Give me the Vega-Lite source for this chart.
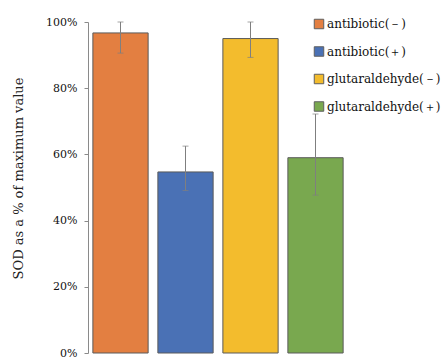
{
  "$schema": "https://vega.github.io/schema/vega-lite/v6.json",
  "width": 260,
  "height": 331,
  "autosize": "none",
  "padding": {"left": 88, "top": 22, "right": 96, "bottom": 5},
  "background": "white",
  "config": {
    "view": {"stroke": null},
    "font": "DejaVu Serif"
  },
  "data": {
    "values": [
      {"group": "antibiotic(－)", "sod": 96.7, "low": 90.6, "high": 100},
      {"group": "antibiotic(＋)", "sod": 54.7, "low": 49.1, "high": 62.5},
      {"group": "glutaraldehyde(－)", "sod": 95.0, "low": 89.3, "high": 100},
      {"group": "glutaraldehyde(＋)", "sod": 59.0, "low": 47.7, "high": 72.2}
    ]
  },
  "encoding": {
    "x": {
      "field": "group",
      "type": "nominal",
      "sort": null,
      "axis": null,
      "scale": {"paddingInner": 0.15, "paddingOuter": 0.075}
    }
  },
  "layer": [
    {
      "mark": {"type": "bar", "stroke": "#5a5a5a", "strokeWidth": 1},
      "encoding": {
        "y": {
          "field": "sod",
          "type": "quantitative",
          "scale": {"domain": [0, 100], "nice": false},
          "axis": {
            "values": [0, 20, 40, 60, 80, 100],
            "labelExpr": "datum.value + '%'",
            "grid": false,
            "domainColor": "#8a8a8a",
            "tickColor": "#8a8a8a",
            "tickSize": 4,
            "labelPadding": 7,
            "labelFont": "DejaVu Serif",
            "labelFontSize": 11,
            "labelColor": "#111111",
            "title": "SOD as a % of maximum value",
            "titleFont": "DejaVu Serif",
            "titleFontSize": 13,
            "titleFontWeight": "normal",
            "titleColor": "#222222",
            "titleX": -70,
            "titleY": 156,
            "titleAlign": "center",
            "titleBaseline": "middle",
            "titleAngle": -90
          }
        },
        "fill": {
          "field": "group",
          "type": "nominal",
          "sort": null,
          "scale": {
            "domain": ["antibiotic(－)", "antibiotic(＋)", "glutaraldehyde(－)", "glutaraldehyde(＋)"],
            "range": ["#E37F41", "#4A71B5", "#F3BC2D", "#79A84F"]
          },
          "legend": {
            "title": null,
            "orient": "none",
            "legendX": 225,
            "legendY": -4,
            "symbolType": "square",
            "symbolSize": 90,
            "symbolStrokeColor": "#5f5f5f",
            "symbolStrokeWidth": 1,
            "symbolOpacity": 1,
            "labelFont": "DejaVu Serif",
            "labelFontSize": 12,
            "labelColor": "#111111",
            "labelLimit": 200,
            "labelOffset": 2,
            "rowPadding": 13.5
          }
        }
      }
    },
    {
      "mark": {"type": "rule", "color": "#7f7f7f", "strokeWidth": 1},
      "encoding": {
        "y": {"field": "low", "type": "quantitative"},
        "y2": {"field": "high"}
      }
    },
    {
      "mark": {"type": "tick", "color": "#7f7f7f", "size": 6, "thickness": 1},
      "encoding": {
        "y": {"field": "low", "type": "quantitative"}
      }
    },
    {
      "mark": {"type": "tick", "color": "#7f7f7f", "size": 6, "thickness": 1},
      "encoding": {
        "y": {"field": "high", "type": "quantitative"}
      }
    }
  ]
}
